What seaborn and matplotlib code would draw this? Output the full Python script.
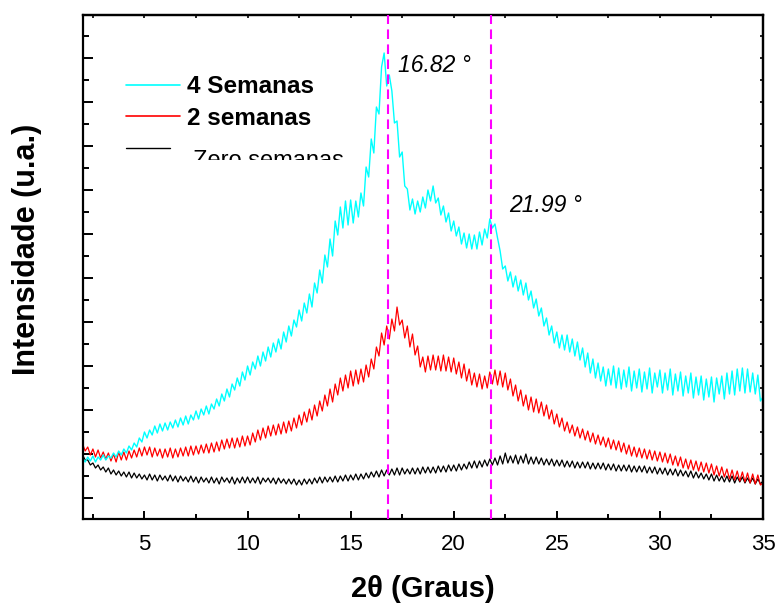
import numpy as np
import matplotlib
matplotlib.use("Agg")
import matplotlib.pyplot as plt
from matplotlib.ticker import FixedLocator, MultipleLocator, NullFormatter
from matplotlib.lines import Line2D
from matplotlib.transforms import Bbox, TransformedBbox
import seaborn as sns

# ---------------- data ----------------
two_theta = np.linspace(2.0, 35.0, 265)  # 0.125 degree steps

semanas_4 = [
    61, 57, 62, 58, 63, 57, 62, 59,
    64, 59, 63, 61, 66, 62, 68, 64,
    70, 66, 73, 69, 76, 72, 81, 77,
    87, 81, 89, 84, 93, 86, 95, 88,
    96, 89, 97, 91, 99, 92, 101, 94,
    103, 95, 104, 99, 108, 100, 110, 104,
    113, 105, 115, 110, 120, 113, 125, 118,
    130, 122, 135, 129, 141, 133, 147, 139,
    153, 144, 157, 150, 163, 153, 167, 158,
    172, 162, 176, 167, 180, 170, 187, 177,
    193, 183, 199, 192, 209, 198, 216, 206,
    225, 212, 236, 226, 249, 236, 264, 252,
    280, 263, 298, 284, 312, 291, 318, 294,
    319, 296, 318, 302, 326, 313, 352, 342,
    380, 366, 412, 405, 452, 466, 433, 444,
    428, 396, 398, 362, 367, 333, 330, 309,
    320, 305, 318, 307, 322, 311, 329, 318,
    333, 316, 321, 304, 313, 297, 306, 288,
    298, 283, 292, 275, 286, 271, 285, 270,
    284, 270, 287, 274, 290, 281, 300, 291,
    295, 281, 268, 250, 253, 238, 247, 232,
    243, 228, 239, 224, 236, 219, 228, 211,
    220, 203, 211, 193, 201, 184, 193, 176,
    187, 171, 184, 169, 184, 167, 180, 163,
    177, 159, 171, 152, 166, 146, 160, 141,
    156, 138, 152, 133, 150, 134, 153, 131,
    151, 130, 149, 132, 152, 128, 148, 131,
    150, 127, 147, 130, 151, 126, 146, 132,
    149, 126, 146, 129, 150, 124, 145, 128,
    147, 123, 143, 126, 146, 121, 142, 124,
    143, 119, 140, 122, 142, 117, 141, 125,
    143, 120, 146, 125, 148, 124, 150, 128,
    151, 126, 150, 127, 146, 125, 144, 118,
    122,
]

semanas_2 = [
    75, 68, 72, 64, 70, 62, 69, 61,
    67, 60, 66, 58, 65, 57, 67, 59,
    67, 59, 68, 61, 69, 62, 71, 63,
    72, 64, 72, 62, 71, 63, 70, 61,
    70, 62, 71, 61, 70, 62, 71, 63,
    72, 63, 73, 64, 73, 65, 74, 66,
    75, 66, 76, 67, 77, 68, 79, 70,
    80, 71, 81, 71, 81, 72, 83, 73,
    83, 74, 86, 77, 89, 79, 91, 81,
    93, 83, 94, 84, 95, 85, 97, 86,
    98, 88, 101, 91, 104, 94, 107, 97,
    110, 99, 114, 103, 118, 108, 124, 113,
    130, 117, 135, 124, 141, 128, 144, 131,
    148, 133, 149, 135, 150, 137, 154, 142,
    160, 150, 172, 163, 186, 174, 193, 180,
    200, 188, 212, 194, 199, 181, 193, 172,
    185, 164, 173, 152, 162, 147, 163, 149,
    164, 149, 163, 148, 164, 148, 162, 147,
    161, 145, 157, 141, 155, 138, 150, 134,
    146, 132, 145, 130, 143, 131, 147, 135,
    149, 134, 148, 132, 146, 129, 140, 123,
    134, 118, 129, 113, 124, 109, 122, 107,
    120, 106, 117, 103, 114, 100, 109, 95,
    105, 92, 101, 88, 97, 86, 94, 83,
    92, 81, 90, 79, 88, 77, 86, 75,
    84, 74, 82, 72, 81, 70, 79, 69,
    78, 67, 76, 65, 74, 63, 72, 62,
    71, 61, 70, 60, 69, 59, 68, 58,
    67, 57, 66, 56, 65, 54, 63, 53,
    62, 51, 60, 50, 59, 49, 58, 48,
    57, 47, 56, 46, 55, 44, 53, 43,
    52, 42, 50, 40, 49, 39, 48, 38,
    47, 37, 46, 36, 45, 35, 44, 34,
    36,
]

semanas_0 = [
    64, 59, 59, 54, 56, 51, 54, 49,
    52, 47, 51, 45, 49, 44, 48, 43,
    47, 42, 47, 41, 46, 41, 45, 40,
    44, 39, 45, 39, 44, 38, 44, 39,
    43, 38, 44, 38, 43, 37, 43, 38,
    42, 37, 43, 37, 42, 36, 42, 37,
    41, 36, 42, 36, 41, 35, 42, 37,
    41, 36, 42, 35, 41, 36, 42, 36,
    42, 36, 41, 36, 42, 35, 41, 37,
    41, 36, 41, 35, 41, 36, 40, 35,
    40, 35, 40, 34, 39, 34, 40, 35,
    40, 35, 41, 36, 42, 36, 42, 37,
    42, 37, 43, 37, 43, 38, 44, 38,
    44, 39, 45, 39, 45, 40, 46, 41,
    47, 42, 48, 42, 49, 43, 49, 44,
    50, 44, 51, 44, 51, 45, 50, 45,
    51, 45, 51, 45, 52, 46, 52, 46,
    52, 46, 53, 47, 53, 47, 54, 48,
    54, 48, 55, 49, 55, 50, 57, 51,
    58, 51, 58, 52, 59, 53, 60, 54,
    61, 54, 63, 55, 66, 56, 63, 56,
    64, 55, 63, 56, 65, 55, 62, 55,
    62, 55, 61, 54, 60, 54, 60, 53,
    59, 53, 59, 52, 58, 52, 58, 51,
    57, 51, 57, 51, 57, 50, 56, 50,
    56, 50, 56, 49, 55, 49, 55, 48,
    54, 48, 54, 48, 54, 47, 53, 47,
    53, 47, 53, 46, 52, 46, 52, 45,
    51, 45, 51, 44, 50, 44, 50, 43,
    49, 43, 48, 42, 48, 41, 47, 41,
    46, 40, 45, 39, 45, 38, 44, 38,
    43, 37, 43, 37, 43, 36, 42, 37,
    42, 36, 41, 36, 41, 35, 40, 35,
    38,
]

series_labels = ["4 Semanas", "2 semanas", "Zero semanas"]
series_colors = ["#00FFFF", "#FF0000", "#000000"]
peak_positions = [16.82, 21.82]
peak_labels = ["16.82 °", "21.99 °"]
x_ticks = [5, 10, 15, 20, 25, 30, 35]
x_label = "2θ (Graus)"
y_label = "Intensidade (u.a.)"

# ---------------- style ----------------
sns.set_style("ticks")
plt.rcParams["font.family"] = ["Liberation Sans", "DejaVu Sans"]
plt.rcParams["text.color"] = "black"
plt.rcParams["axes.labelcolor"] = "black"
plt.rcParams["xtick.color"] = "black"
plt.rcParams["ytick.color"] = "black"

W, H = 779, 603
fig = plt.figure(figsize=(W / 100, H / 100), dpi=100)
ax_l, ax_r, ax_t, ax_b = 82.6, 763.0, 15.0, 519.0
ax = fig.add_axes([ax_l / W, 1 - ax_b / H, (ax_r - ax_l) / W, (ax_b - ax_t) / H])

# draw order: black, red, cyan
sns.lineplot(x=two_theta, y=semanas_0, color=series_colors[2], lw=0.9,
             ax=ax, estimator=None, sort=False, legend=False, zorder=2)
sns.lineplot(x=two_theta, y=semanas_2, color=series_colors[1], lw=0.9,
             ax=ax, estimator=None, sort=False, legend=False, zorder=2.1)
sns.lineplot(x=two_theta, y=semanas_4, color=series_colors[0], lw=1.0,
             ax=ax, estimator=None, sort=False, legend=False, zorder=2.2)

for xp in peak_positions:
    ax.axvline(xp, color="#FF00FF", lw=1.5, dashes=(4.6, 2.6), zorder=3)

ax.set_xlim(2, 35)
ax.set_ylim(0, 504)

# ticks
ax.xaxis.set_major_locator(FixedLocator(x_ticks))
ax.xaxis.set_minor_locator(MultipleLocator(2.5))
ax.yaxis.set_major_locator(FixedLocator(np.arange(21, 470, 44)))
ax.yaxis.set_minor_locator(FixedLocator(np.arange(43, 500, 44)))
ax.tick_params(axis="x", which="major", direction="in", length=5.8, width=1.4,
               labelsize=16, pad=11, top=False, colors="black")
ax.tick_params(axis="x", which="minor", direction="in", length=3.6, width=1.4, top=False)
ax.tick_params(axis="y", which="major", direction="in", length=7.5, width=1.4,
               labelleft=False, right=False)
ax.tick_params(axis="y", which="minor", direction="in", length=4.5, width=1.4, right=False)

secx = ax.secondary_xaxis("top")
secx.xaxis.set_major_locator(FixedLocator(np.arange(2.5, 35, 2.5)))
secx.xaxis.set_major_formatter(NullFormatter())
secx.tick_params(direction="in", length=2.5, width=1.2)
secy = ax.secondary_yaxis("right")
secy.yaxis.set_major_locator(FixedLocator(np.arange(21, 500, 22)))
secy.yaxis.set_major_formatter(NullFormatter())
secy.tick_params(direction="in", length=2.5, width=1.2)

for a in (ax, secx, secy):
    for s in a.spines.values():
        s.set_linewidth(1.6)
        s.set_color("black")

# labels
ax.set_xlabel(x_label, fontsize=21, fontweight="bold")
ax.xaxis.set_label_coords(0.5, -0.111)
ax.set_ylabel(y_label, fontsize=22, fontweight="bold")
ax.yaxis.set_label_coords(-0.0597, 0.535)

# legend (drawn manually, as in the original)
leg_rows = [(0.861, 0.8458, True, 0.1431), (0.800, 0.7817, True, 0.1431),
            (0.7355, 0.698, False, 0.1291)]
for (ly, ty, bold, x1), lab, col in zip(leg_rows, series_labels, series_colors):
    ax.add_line(Line2D([0.0638, x1], [ly, ly], transform=ax.transAxes,
                       color=col, lw=1.2 if bold else 1.0, zorder=4))
    if bold:
        ax.text(0.1534, ty, lab, transform=ax.transAxes, fontsize=17.5,
                fontweight="bold", va="baseline", ha="left")
    else:
        t = ax.text(0.1622, ty, lab, transform=ax.transAxes, fontsize=17,
                    va="baseline", ha="left")
        t.set_clip_on(True)
        t.set_clip_box(TransformedBbox(Bbox([[0, 1 - 160 / H], [1, 1]]),
                                       fig.transFigure))

# peak annotations
ax.text(0.4635, 0.8875, peak_labels[0], transform=ax.transAxes, fontsize=16.5,
        style="italic", va="baseline", ha="left")
ax.text(0.6267, 0.6097, peak_labels[1], transform=ax.transAxes, fontsize=16.5,
        style="italic", va="baseline", ha="left")

fig.savefig("out.png", dpi=100)
